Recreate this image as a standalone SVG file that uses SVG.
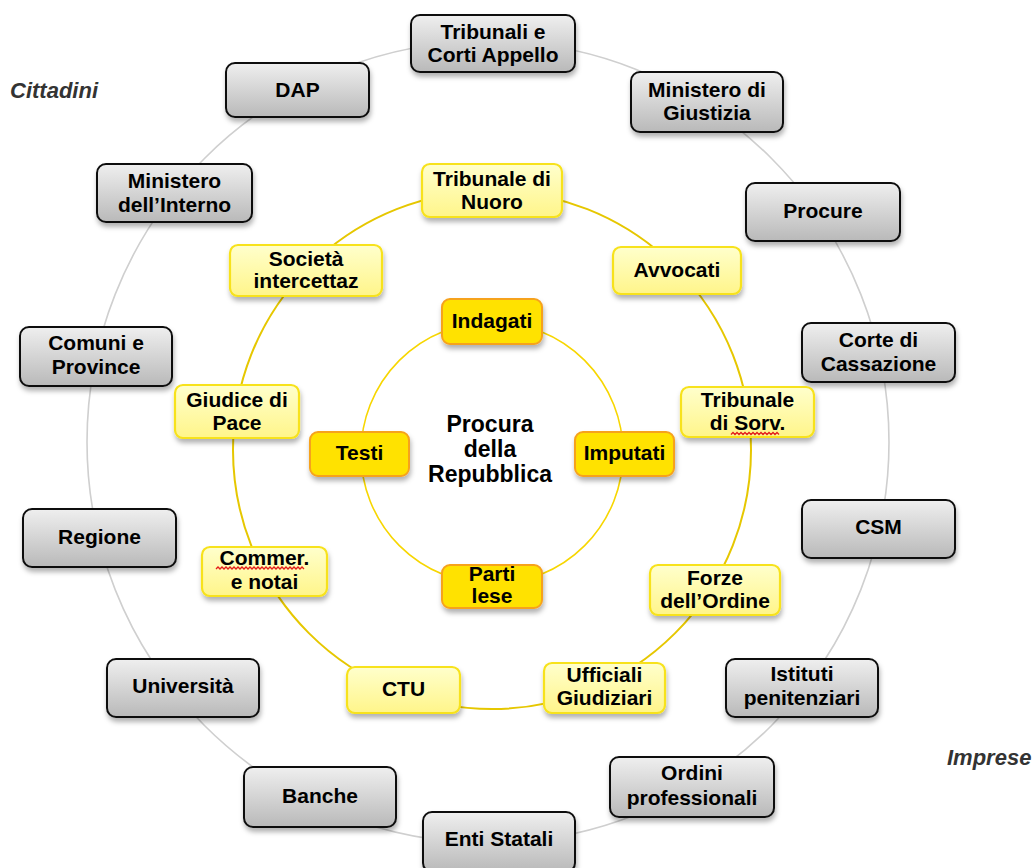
<svg xmlns="http://www.w3.org/2000/svg" width="1033" height="868" viewBox="0 0 1033 868">
<style>
.t{font-family:"Liberation Sans",Arial,sans-serif;font-weight:bold;font-size:21px;fill:#000;text-anchor:middle}
.side{font-family:"Liberation Sans",Arial,sans-serif;font-weight:bold;font-style:italic;font-size:22px;fill:#333}
.g rect{fill:url(#gg);stroke:#111;stroke-width:2;filter:url(#sh)}
.y rect{fill:url(#yg);stroke:#f7e21a;stroke-width:2.2;filter:url(#sh)}
.o rect{fill:#ffe200;stroke:#f6a21e;stroke-width:2;filter:url(#sh)}
.sq{fill:none;stroke:#e41b1b;stroke-width:1.3}
</style>
<defs>
<linearGradient id="gg" x1="0" y1="0" x2="0" y2="1"><stop offset="0" stop-color="#efefef"/><stop offset="1" stop-color="#b9b9b9"/></linearGradient>
<linearGradient id="yg" x1="0" y1="0" x2="0" y2="1"><stop offset="0" stop-color="#ffffcc"/><stop offset="1" stop-color="#fff58a"/></linearGradient>
<filter id="sh" x="-10%" y="-10%" width="125%" height="140%"><feDropShadow dx="1" dy="4" stdDeviation="2.5" flood-color="#000" flood-opacity="0.3"/></filter>
</defs>
<rect width="1033" height="868" fill="#fff"/>
<g id="connectors" fill="none">
<circle cx="488" cy="442" r="401" stroke="#cfcfcf" stroke-width="1.6"/>
<circle cx="492" cy="450" r="259" stroke="#e6c700" stroke-width="2"/>
<circle cx="492" cy="453" r="131" stroke="#f7d600" stroke-width="1.6"/>
</g>
<text class="side" x="10" y="98">Cittadini</text>
<text class="side" x="947" y="765">Imprese</text>
<g id="procura"><text class="t" style="font-size:23px" x="490" y="432">Procura</text><text class="t" style="font-size:23px" x="490" y="457">della</text><text class="t" style="font-size:23px" x="490" y="482">Repubblica</text></g>
<g id="tribunali" class="g"><rect x="411" y="15" width="164" height="57" rx="9"/><text class="t" x="493" y="39">Tribunali e</text><text class="t" x="493" y="62">Corti Appello</text></g>
<g id="dap" class="g"><rect x="226" y="63" width="143" height="54" rx="9"/><text class="t" x="297.5" y="97">DAP</text></g>
<g id="min-giustizia" class="g"><rect x="631" y="72" width="152" height="60" rx="9"/><text class="t" x="707" y="97">Ministero di</text><text class="t" x="707" y="120">Giustizia</text></g>
<g id="min-interno" class="g"><rect x="97" y="164" width="155" height="58" rx="9"/><text class="t" x="174.5" y="188">Ministero</text><text class="t" x="174.5" y="212">dell’Interno</text></g>
<g id="procure" class="g"><rect x="746" y="183" width="154" height="58" rx="9"/><text class="t" x="823" y="218">Procure</text></g>
<g id="comuni" class="g"><rect x="20" y="327" width="152" height="59" rx="9"/><text class="t" x="96" y="350">Comuni e</text><text class="t" x="96" y="374">Province</text></g>
<g id="cassazione" class="g"><rect x="802" y="323" width="153" height="59" rx="9"/><text class="t" x="878.5" y="347">Corte di</text><text class="t" x="878.5" y="371">Cassazione</text></g>
<g id="regione" class="g"><rect x="23" y="509" width="153" height="58" rx="9"/><text class="t" x="99.5" y="544">Regione</text></g>
<g id="csm" class="g"><rect x="802" y="500" width="153" height="58" rx="9"/><text class="t" x="878.5" y="534">CSM</text></g>
<g id="universita" class="g"><rect x="107" y="659" width="152" height="58" rx="9"/><text class="t" x="183" y="693">Università</text></g>
<g id="istituti" class="g"><rect x="726" y="659" width="152" height="58" rx="9"/><text class="t" x="802" y="681">Istituti</text><text class="t" x="802" y="705">penitenziari</text></g>
<g id="banche" class="g"><rect x="244" y="767" width="152" height="60" rx="9"/><text class="t" x="320" y="803">Banche</text></g>
<g id="ordini" class="g"><rect x="610" y="757" width="164" height="60" rx="9"/><text class="t" x="692" y="780">Ordini</text><text class="t" x="692" y="805">professionali</text></g>
<g id="enti" class="g"><rect x="423" y="812" width="152" height="60" rx="9"/><text class="t" x="499" y="846">Enti Statali</text></g>
<g id="nuoro" class="y"><rect x="422" y="164" width="140" height="53" rx="8"/><text class="t" x="492" y="186">Tribunale di</text><text class="t" x="492" y="209">Nuoro</text></g>
<g id="societa" class="y"><rect x="230" y="245" width="152" height="51" rx="8"/><text class="t" x="306" y="266">Società</text><text class="t" x="306" y="288">intercettaz</text></g>
<g id="avvocati" class="y"><rect x="613" y="247" width="128" height="47" rx="8"/><text class="t" x="677" y="277">Avvocati</text></g>
<g id="giudice" class="y"><rect x="175" y="385" width="124" height="53" rx="8"/><text class="t" x="237" y="407">Giudice di</text><text class="t" x="237" y="430">Pace</text></g>
<g id="sorv" class="y"><rect x="681" y="387" width="133" height="50" rx="8"/><text class="t" x="747.5" y="407">Tribunale</text><text class="t" x="747.5" y="430">di Sorv.</text><path class="sq" d="M731 434.5 l2 -2 l2 2 l2 -2 l2 2 l2 -2 l2 2 l2 -2 l2 2 l2 -2 l2 2 l2 -2 l2 2 l2 -2 l2 2 l2 -2 l2 2 l2 -2 l2 2 l2 -2 l2 2 l2 -2 l2 2 l2 -2 l2 2"/></g>
<g id="commer" class="y"><rect x="202" y="547" width="125" height="49" rx="8"/><text class="t" x="264.5" y="565">Commer.</text><text class="t" x="264.5" y="589">e notai</text><path class="sq" d="M216 569 l2 -2 l2 2 l2 -2 l2 2 l2 -2 l2 2 l2 -2 l2 2 l2 -2 l2 2 l2 -2 l2 2 l2 -2 l2 2 l2 -2 l2 2 l2 -2 l2 2 l2 -2 l2 2 l2 -2 l2 2 l2 -2 l2 2 l2 -2 l2 2 l2 -2 l2 2 l2 -2 l2 2 l2 -2 l2 2 l2 -2 l2 2 l2 -2 l2 2 l2 -2 l2 2 l2 -2 l2 2 l2 -2 l2 2 l2 -2 l2 2"/></g>
<g id="forze" class="y"><rect x="650" y="565" width="130" height="50" rx="8"/><text class="t" x="715" y="585">Forze</text><text class="t" x="715" y="608">dell’Ordine</text></g>
<g id="ctu" class="y"><rect x="347" y="667" width="113" height="46" rx="8"/><text class="t" x="403.5" y="696">CTU</text></g>
<g id="ufficiali" class="y"><rect x="544" y="663" width="121" height="50" rx="8"/><text class="t" x="604.5" y="682">Ufficiali</text><text class="t" x="604.5" y="705">Giudiziari</text></g>
<g id="indagati" class="o"><rect x="442" y="299" width="100" height="45" rx="8"/><text class="t" x="492" y="328">Indagati</text></g>
<g id="testi" class="o"><rect x="310" y="432" width="99" height="44" rx="8"/><text class="t" x="359.5" y="460">Testi</text></g>
<g id="imputati" class="o"><rect x="575" y="432" width="99" height="44" rx="8"/><text class="t" x="624.5" y="460">Imputati</text></g>
<g id="parti" class="o"><rect x="442" y="565" width="100" height="43" rx="8"/><text class="t" x="492" y="581">Parti</text><text class="t" x="492" y="603">lese</text></g>
</svg>
